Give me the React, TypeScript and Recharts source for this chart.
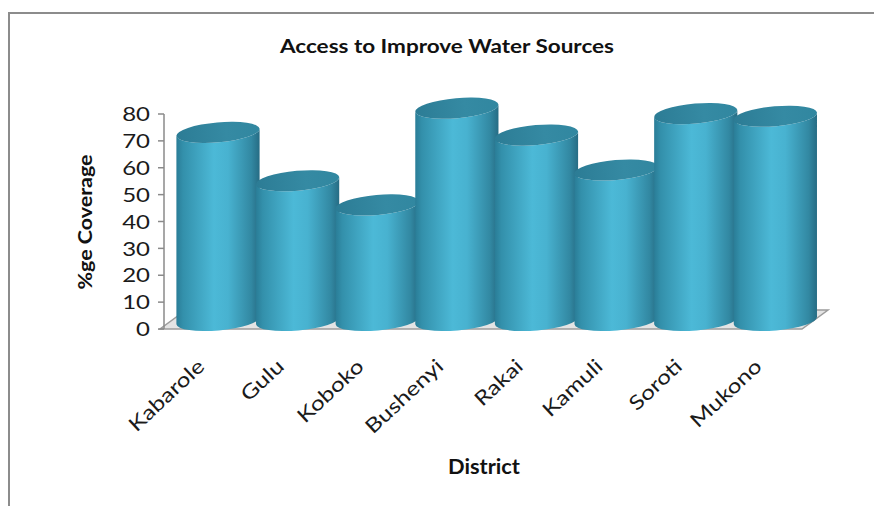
import React from 'react';
import { BarChart, Bar, XAxis, YAxis, Customized } from 'recharts';

const districts = ['Kabarole', 'Gulu', 'Koboko', 'Bushenyi', 'Rakai', 'Kamuli', 'Soroti', 'Mukono'];
const coverage = [70, 52, 43, 79, 69, 56, 77, 76];
const yTicks = [0, 10, 20, 30, 40, 50, 60, 70, 80];
const chartTitle = 'Access to Improve Water Sources';
const xTitle = 'District';
const yTitle = '%ge Coverage';

const data = districts.map((d, i) => ({ district: d, coverage: coverage[i] }));

const W = 874;
const H = 506;
const MARGIN = { top: 114, right: 59, bottom: 57, left: 0 };
const Y_AXIS_W = 164;
const X_AXIS_H = 120;
const DEPTH = 8.5;
const RY = 10;
const TILT = 5;
const FONT = 'Lato, "Open Sans", sans-serif';

function Cylinder(props: any) {
  const { x, y, width, height, index } = props;
  if (x == null || y == null) return null;
  const cx = x + width / 2;
  const rx = width * 0.522;
  const t = (TILT * Math.PI) / 180;
  const yT = y - DEPTH;
  const yB = y + height - DEPTH;
  const dx = rx * Math.cos(t);
  const dy = rx * Math.sin(t);
  const Lx = cx - dx;
  const Rx = cx + dx;
  const side = `M${Lx},${yT + dy} L${Lx},${yB + dy} A${rx},${RY} ${-TILT} 0 0 ${Rx},${yB - dy} L${Rx},${yT - dy} A${rx},${RY} ${-TILT} 0 1 ${Lx},${yT + dy} Z`;
  const sid = `cylSide${index}`;
  const tid = `cylTop${index}`;
  return (
    <g>
      <defs>
        <linearGradient id={sid} x1="0" y1="0" x2="1" y2="0">
          <stop offset="0" stopColor="#2a7d97" />
          <stop offset="0.08" stopColor="#3390ab" />
          <stop offset="0.45" stopColor="#4cb9d7" />
          <stop offset="0.62" stopColor="#48b2d0" />
          <stop offset="0.9" stopColor="#3288a2" />
          <stop offset="1" stopColor="#266c84" />
        </linearGradient>
        <linearGradient id={tid} x1="0" y1="0" x2="1" y2="0">
          <stop offset="0" stopColor="#2c7c95" />
          <stop offset="0.6" stopColor="#358aa3" />
          <stop offset="1" stopColor="#3187a0" />
        </linearGradient>
      </defs>
      <path d={side} fill={`url(#${sid})`} />
      <ellipse
        cx={cx}
        cy={yT}
        rx={rx}
        ry={RY}
        transform={`rotate(${-TILT} ${cx} ${yT})`}
        fill={`url(#${tid})`}
      />
    </g>
  );
}

function YTick(props: any) {
  const { x, y, payload } = props;
  return (
    <g transform={`translate(${x},${y})`}>
      <text
        x={0}
        y={0}
        dy="0.36em"
        textAnchor="end"
        transform="scale(1.2,1)"
        fontFamily={FONT}
        fontSize={20}
        fill="#1a1a1a"
      >
        {payload.value}
      </text>
    </g>
  );
}

function XTick(props: any) {
  const { x, payload } = props;
  const tx = x - 12;
  const ty = 368;
  return (
    <g transform={`translate(${tx},${ty}) rotate(-43) scale(1.22,1)`}>
      <text x={0} y={0} textAnchor="end" fontFamily={FONT} fontSize={20} fill="#1a1a1a">
        {payload.value}
      </text>
    </g>
  );
}

function Floor() {
  return (
    <polygon
      points="160,329 802,329 828,310 186,310"
      fill="#e4e4e4"
      stroke="#9c9c9c"
      strokeWidth={1.5}
    />
  );
}

function Titles() {
  return (
    <g fontFamily={FONT} fill="#111">
      <text x={447} y={53} textAnchor="middle" fontWeight="bold" fontSize={19} textLength={334} lengthAdjust="spacingAndGlyphs">
        {chartTitle}
      </text>
      <text x={484} y={474} textAnchor="middle" fontWeight="bold" fontSize={21} textLength={72} lengthAdjust="spacingAndGlyphs">
        {xTitle}
      </text>
      <text
        x={92}
        y={222}
        textAnchor="middle"
        fontWeight="bold"
        fontSize={19}
        textLength={135}
        lengthAdjust="spacingAndGlyphs"
        transform="rotate(-90 92 222)"
      >
        {yTitle}
      </text>
    </g>
  );
}

export default function App() {
  return (
    <div style={{ position: 'absolute', left: 0, top: 0, width: W, height: H, overflow: 'hidden', background: '#fff' }}>
      <div
        style={{
          position: 'absolute',
          left: 8,
          top: 12,
          width: 920,
          height: 600,
          border: '2px solid #8c8c8c',
          boxSizing: 'border-box',
        }}
      />
      <div style={{ position: 'absolute', left: 0, top: 0 }}>
        <BarChart width={W} height={H} data={data} margin={MARGIN} barCategoryGap={0}>
          <Customized component={Floor} />
          <XAxis
            dataKey="district"
            type="category"
            axisLine={false}
            tickLine={false}
            height={X_AXIS_H}
            padding={{ left: 14, right: 0 }}
            interval={0}
            tick={<XTick />}
          />
          <YAxis
            type="number"
            domain={[0, 80]}
            ticks={yTicks}
            width={Y_AXIS_W}
            tickSize={6}
            tickMargin={8}
            axisLine={{ stroke: '#8a8a8a', strokeWidth: 1.5 }}
            tickLine={{ stroke: '#8a8a8a', strokeWidth: 1.5 }}
            tick={<YTick />}
            interval={0}
          />
          <Bar dataKey="coverage" isAnimationActive={false} shape={<Cylinder />} />
          <Customized component={Titles} />
        </BarChart>
      </div>
    </div>
  );
}
